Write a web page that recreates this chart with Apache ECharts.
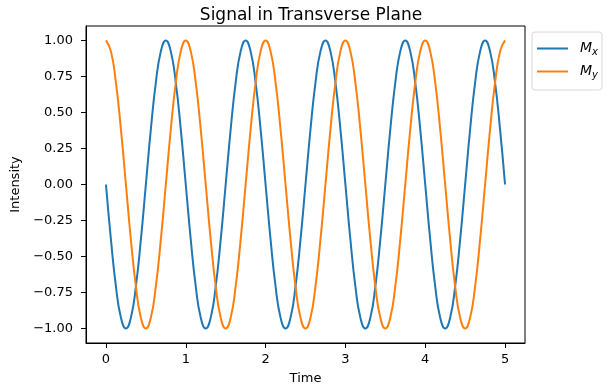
<!DOCTYPE html>
<html>
<head>
<meta charset="utf-8">
<script src="https://cdn.jsdelivr.net/npm/echarts@6/dist/echarts.min.js"></script>
<style>
  html, body { margin: 0; padding: 0; background: #fff; }
  #chart { width: 609px; height: 388px; }
</style>
</head>
<body>
<div id="chart"></div>
<script>
// time samples (16 per period)
const time = [
  0, 0.0625, 0.125, 0.1875, 0.25, 0.3125, 0.375, 0.4375, 0.5, 0.5625, 0.625, 0.6875, 0.75, 0.8125, 0.875, 0.9375,
  1, 1.0625, 1.125, 1.1875, 1.25, 1.3125, 1.375, 1.4375, 1.5, 1.5625, 1.625, 1.6875, 1.75, 1.8125, 1.875, 1.9375,
  2, 2.0625, 2.125, 2.1875, 2.25, 2.3125, 2.375, 2.4375, 2.5, 2.5625, 2.625, 2.6875, 2.75, 2.8125, 2.875, 2.9375,
  3, 3.0625, 3.125, 3.1875, 3.25, 3.3125, 3.375, 3.4375, 3.5, 3.5625, 3.625, 3.6875, 3.75, 3.8125, 3.875, 3.9375,
  4, 4.0625, 4.125, 4.1875, 4.25, 4.3125, 4.375, 4.4375, 4.5, 4.5625, 4.625, 4.6875, 4.75, 4.8125, 4.875, 4.9375,
  5
];
const mx = [
  0, -0.383, -0.707, -0.924, -1, -0.924, -0.707, -0.383, 0, 0.383, 0.707, 0.924, 1, 0.924, 0.707, 0.383,
  0, -0.383, -0.707, -0.924, -1, -0.924, -0.707, -0.383, 0, 0.383, 0.707, 0.924, 1, 0.924, 0.707, 0.383,
  0, -0.383, -0.707, -0.924, -1, -0.924, -0.707, -0.383, 0, 0.383, 0.707, 0.924, 1, 0.924, 0.707, 0.383,
  0, -0.383, -0.707, -0.924, -1, -0.924, -0.707, -0.383, 0, 0.383, 0.707, 0.924, 1, 0.924, 0.707, 0.383,
  0, -0.383, -0.707, -0.924, -1, -0.924, -0.707, -0.383, 0, 0.383, 0.707, 0.924, 1, 0.924, 0.707, 0.383,
  0
];
const my = [
  1, 0.924, 0.707, 0.383, 0, -0.383, -0.707, -0.924, -1, -0.924, -0.707, -0.383, 0, 0.383, 0.707, 0.924,
  1, 0.924, 0.707, 0.383, 0, -0.383, -0.707, -0.924, -1, -0.924, -0.707, -0.383, 0, 0.383, 0.707, 0.924,
  1, 0.924, 0.707, 0.383, 0, -0.383, -0.707, -0.924, -1, -0.924, -0.707, -0.383, 0, 0.383, 0.707, 0.924,
  1, 0.924, 0.707, 0.383, 0, -0.383, -0.707, -0.924, -1, -0.924, -0.707, -0.383, 0, 0.383, 0.707, 0.924,
  1, 0.924, 0.707, 0.383, 0, -0.383, -0.707, -0.924, -1, -0.924, -0.707, -0.383, 0, 0.383, 0.707, 0.924,
  1
];
const xTicks = [0, 1, 2, 3, 4, 5];
const yTicks = [-1, -0.75, -0.5, -0.25, 0, 0.25, 0.5, 0.75, 1];

const font = "DejaVu Sans";
const chart = echarts.init(document.getElementById("chart"));

function pairs(ys) {
  return time.map((t, i) => [t, ys[i]]);
}

chart.setOption({
  animation: false,
  textStyle: { fontFamily: font },
  title: {
    text: "Signal in Transverse Plane",
    left: 306,
    top: 2,
    textAlign: "center",
    textStyle: { fontFamily: font, fontSize: 17, fontWeight: "normal", color: "#000" }
  },
  grid: {
    left: 86, right: 84, top: 26, bottom: 45,
    outerBoundsMode: "none",
    show: true, borderColor: "#000", borderWidth: 1
  },
  legend: {
    orient: "vertical",
    left: 532,
    top: 32,
    icon: "rect",
    itemWidth: 31,
    itemHeight: 2,
    itemGap: 6,
    padding: [8, 4, 10, 5],
    borderColor: "#d8d8d8",
    borderWidth: 1,
    borderRadius: 3,
    data: ["Mx", "My"],
    formatter: name => "{i|M}{s|" + name.slice(1) + "}",
    textStyle: {
      padding: [0, 0, 0, 7],
      rich: {
        i: { fontFamily: font, fontStyle: "italic", fontSize: 14, lineHeight: 15, color: "#000" },
        s: { fontFamily: font, fontStyle: "italic", fontSize: 10, lineHeight: 15, color: "#000", padding: [7, 0, 0, 0] }
      }
    }
  },
  xAxis: {
    type: "value",
    min: -0.25,
    max: 5.25,
    name: "Time",
    nameLocation: "middle",
    nameGap: 29,
    nameTextStyle: { fontFamily: font, fontSize: 13, color: "#000" },
    axisLine: { onZero: false, lineStyle: { color: "#000" } },
    axisTick: { show: true, length: 5, customValues: xTicks, lineStyle: { color: "#000" } },
    axisLabel: { customValues: xTicks, fontFamily: font, fontSize: 13, color: "#000", margin: 10 },
    splitLine: { show: false }
  },
  yAxis: {
    type: "value",
    min: -1.1,
    max: 1.1,
    name: "Intensity",
    nameLocation: "middle",
    nameGap: 57,
    nameTextStyle: { fontFamily: font, fontSize: 13, color: "#000" },
    axisLine: { show: true, onZero: false, lineStyle: { color: "#000" } },
    axisTick: { show: true, length: 5, customValues: yTicks, lineStyle: { color: "#000" } },
    axisLabel: {
      customValues: yTicks,
      fontFamily: font,
      fontSize: 13,
      color: "#000",
      margin: 13,
      formatter: v => v.toFixed(2).replace("-", "\u2212")
    },
    splitLine: { show: false }
  },
  series: [
    {
      name: "Mx",
      type: "line",
      data: pairs(mx),
      symbol: "none",
      smooth: true,
      lineStyle: { color: "#1f77b4", width: 2 },
      itemStyle: { color: "#1f77b4" }
    },
    {
      name: "My",
      type: "line",
      data: pairs(my),
      symbol: "none",
      smooth: true,
      lineStyle: { color: "#ff7f0e", width: 2 },
      itemStyle: { color: "#ff7f0e" }
    }
  ]
});
</script>
</body>
</html>
